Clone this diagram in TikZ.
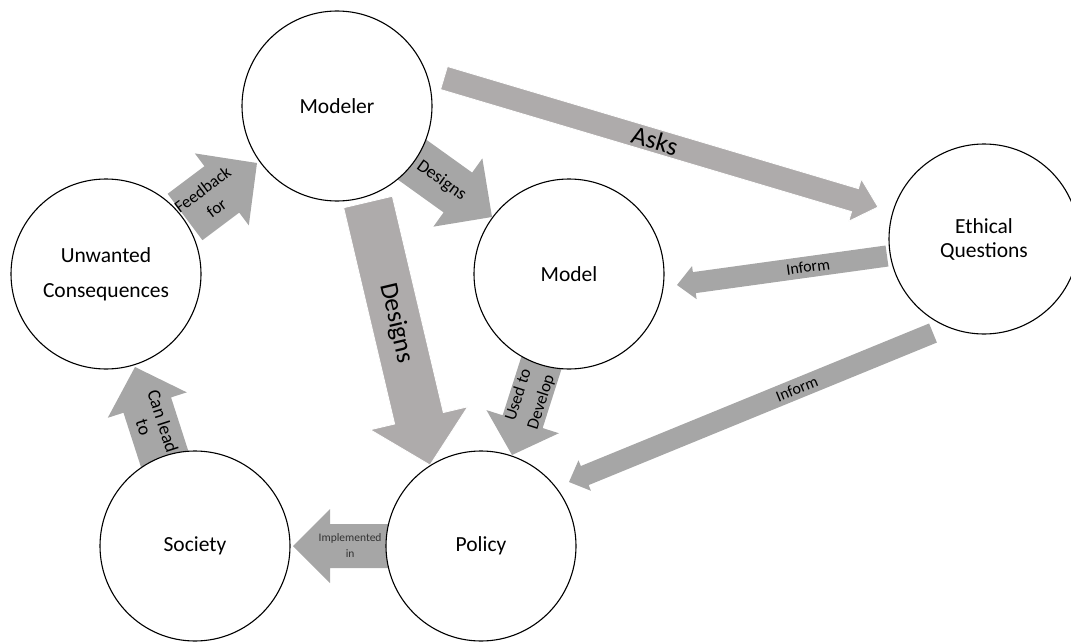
\documentclass[tikz,border=0pt]{standalone}
\usepackage{fontspec}
\setmainfont{Carlito}
\usetikzlibrary{calc}
\definecolor{arrgray}{HTML}{A6A6A6}
\definecolor{warmgray}{HTML}{AEABAB}
\pgfdeclarelayer{bg}
\pgfsetlayers{bg,main}
% #1 style, #2 tail, #3 tip, #4 half shaft width, #5 half head width, #6 head length
\newcommand{\blockarr}[6]{%
  \coordinate (hb) at ($(#3)!#6!(#2)$);
  \filldraw[#1] ($(#2)!#4!90:(#3)$) -- ($(hb)!#4!90:(#3)$) -- ($(hb)!#5!90:(#3)$) -- (#3)
     -- ($(hb)!#5!-90:(#3)$) -- ($(hb)!#4!-90:(#3)$) -- ($(#2)!#4!-90:(#3)$) -- cycle;}
\tikzset{
  bubble/.style={circle, draw=black, line width=1.1pt, fill=white, minimum size=190pt,
    inner sep=0pt, align=center, font=\fontsize{21.5}{24}\selectfont},
  plainarr/.style={fill=arrgray, draw=none},
  warmarr/.style={fill=warmgray, draw=white, line width=0.8pt},
  lbl/.style={sloped, align=center, inner sep=0pt, text=black}
}
\begin{document}
\begin{tikzpicture}[x=1pt,y=-1pt]
\useasboundingbox (0,0) rectangle (1071,642);
% circles
\node[bubble] (modeler) at (337,106) {Modeler};
\node[bubble, font=\fontsize{21.5}{35}\selectfont] (unwanted) at (106,274) {Unwanted\\Consequences};
\node[bubble] (model) at (569,274) {Model};
\node[bubble, font=\fontsize{21.5}{24}\selectfont] (ethical) at (984,239) {Ethical\\Questions};
\node[bubble] (society) at (195,546) {Society};
\node[bubble] (policy) at (481,546) {Policy};
% arrow end points
\coordinate (fbT) at (185,217);   \coordinate (fbP) at (257,163);
\coordinate (dsT) at (400,151);   \coordinate (dsP) at (492,217);
\coordinate (dbT) at (368,202);   \coordinate (dbP) at (430,465);
\coordinate (udT) at (546.6,346.7); \coordinate (udP) at (512,455);
\coordinate (akT) at (444,78);    \coordinate (akP) at (878,207);
\coordinate (ioT) at (887,256);   \coordinate (ioP) at (677,285);
\coordinate (ipT) at (933,333);   \coordinate (ipP) at (569,482);
\coordinate (clT) at (168.6,471.3); \coordinate (clP) at (135,367);
\coordinate (imT) at (395,546);   \coordinate (imP) at (293,546);
\begin{pgfonlayer}{bg}
\blockarr{plainarr}{fbT}{fbP}{29pt}{45pt}{44pt}
\path (fbT) -- (fbP) node[lbl, pos=0.34, font=\fontsize{17}{23}\selectfont] {Feedback\\for};
\blockarr{plainarr}{dsT}{dsP}{24.5pt}{42pt}{42pt}
\path (dsT) -- (dsP) node[lbl, pos=0.45, font=\fontsize{18}{22}\selectfont] {Designs};
\blockarr{warmarr}{dbT}{dbP}{25pt}{50pt}{48pt}
\path (dbT) -- (dbP) node[lbl, pos=0.46, font=\fontsize{26}{30}\selectfont] {Designs};
\blockarr{plainarr}{udT}{udP}{21pt}{38pt}{35pt}
\path (udT) -- (udP) node[lbl, pos=0.48, font=\fontsize{17}{24}\selectfont] {Used to\\Develop};
\blockarr{warmarr}{akT}{akP}{12pt}{22pt}{24pt}
\path (akT) -- (akP) node[lbl, pos=0.486, font=\fontsize{26}{30}\selectfont] {Asks};
\blockarr{plainarr}{ioT}{ioP}{10.6pt}{16.7pt}{17.5pt}
\path (ioT) -- (ioP) node[lbl, pos=0.376, font=\fontsize{16}{19}\selectfont] {Inform};
\blockarr{plainarr}{ipT}{ipP}{10.3pt}{16.5pt}{17pt}
\path (ipT) -- (ipP) node[lbl, pos=0.374, font=\fontsize{16}{19}\selectfont] {Inform};
\blockarr{plainarr}{clT}{clP}{25pt}{41.5pt}{40pt}
\path (clT) -- (clP) node[lbl, pos=0.45, font=\fontsize{18.5}{20}\selectfont] {Can lead\\to};
\blockarr{plainarr}{imT}{imP}{22pt}{37pt}{37pt}
\path (imT) -- (imP) node[lbl, pos=0.44, text=black!80, font=\fontsize{11.5}{16}\selectfont] {Implemented\\in};
\end{pgfonlayer}
\end{tikzpicture}
\end{document}
